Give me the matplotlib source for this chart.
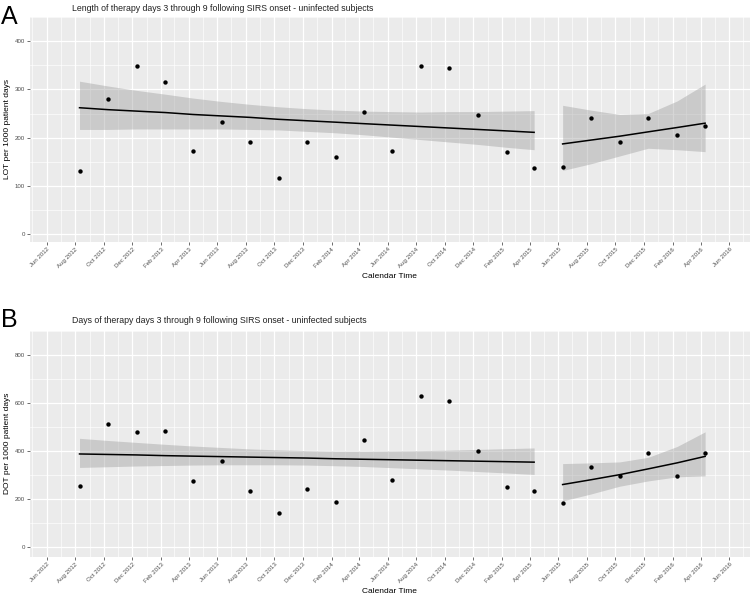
import matplotlib
matplotlib.use("Agg")
import matplotlib.pyplot as plt
import matplotlib.dates as mdates
import pandas as pd

plt.rcParams['font.family'] = ['Liberation Sans', 'DejaVu Sans']

# bimonthly observation dates
dates = pd.to_datetime([
    "2012-08-10", "2012-10-10", "2012-12-10", "2013-02-10", "2013-04-10", "2013-06-10",
    "2013-08-10", "2013-10-10", "2013-12-10", "2014-02-10", "2014-04-10", "2014-06-10",
    "2014-08-10", "2014-10-10", "2014-12-10", "2015-02-10", "2015-04-10",
    "2015-06-10", "2015-08-10", "2015-10-10", "2015-12-10", "2016-02-10", "2016-04-10",
])
split = 17  # first 17 points before the break, 6 after

# panel A: length of therapy
lot = [130, 281, 349, 316, 173, 233, 191, 116, 192, 159, 254, 172, 348, 345, 247, 171, 137,
       139, 240, 192, 241, 205, 224]
lot_fit = [262, 258, 255, 252, 248, 245, 242, 238, 235, 232, 229, 226, 223, 220, 217, 214, 211,
           187, 195, 203, 212, 221, 230]
lot_lo = [217, 217, 218, 218, 218, 218, 217, 216, 213, 210, 206, 201, 196, 191, 186, 180, 175,
          132, 146, 162, 178, 175, 171]
lot_hi = [317, 307, 298, 290, 282, 275, 269, 264, 260, 257, 255, 254, 253, 254, 254, 255, 256,
          267, 257, 248, 250, 276, 311]

# panel B: days of therapy
dot = [257, 513, 480, 484, 277, 360, 234, 143, 241, 188, 444, 281, 627, 609, 400, 249, 236,
       183, 334, 298, 392, 297, 390]
dot_fit = [388, 386, 384, 381, 379, 377, 375, 373, 371, 368, 366, 364, 362, 360, 358, 356, 354,
           261, 281, 302, 326, 351, 378]
dot_lo = [332, 335, 338, 340, 342, 343, 343, 343, 342, 339, 336, 331, 326, 321, 315, 309, 303,
          193, 222, 254, 276, 293, 297]
dot_hi = [453, 444, 436, 428, 421, 415, 409, 405, 402, 400, 400, 401, 402, 404, 407, 410, 413,
          348, 351, 355, 374, 419, 480]

W, H = 750, 597
fig = plt.figure(figsize=(W / 100, H / 100), dpi=100)


def px(x, y):
    return x / W, 1 - y / H


def panel(rect, y, fit, lo, hi, ylim, yticks, ylabel):
    ax = fig.add_axes(rect)
    ax.set_facecolor('#EBEBEB')
    for s in ax.spines.values():
        s.set_visible(False)
    for a, b in [(0, split), (split, len(dates))]:
        ax.fill_between(dates[a:b], lo[a:b], hi[a:b], color='#999999', alpha=0.4, lw=0, zorder=2)
        ax.plot(dates[a:b], fit[a:b], color='black', lw=1.1, zorder=3)
    ax.scatter(dates, y, s=10, color='black', zorder=4, linewidths=0)
    ax.set_xlim(pd.Timestamp("2012-04-26"), pd.Timestamp("2016-07-14"))
    ax.set_ylim(*ylim)
    step = yticks[1] - yticks[0]
    ax.set_yticks(yticks)
    ax.set_yticks([v + step / 2 for v in yticks], minor=True)
    ax.xaxis.set_major_locator(mdates.MonthLocator(bymonth=[2, 4, 6, 8, 10, 12]))
    ax.xaxis.set_minor_locator(mdates.MonthLocator(bymonth=[1, 3, 5, 7, 9, 11]))
    ax.xaxis.set_major_formatter(mdates.DateFormatter('%b %Y'))
    ax.grid(which='major', color='white', lw=0.9, zorder=0)
    ax.grid(which='minor', color='white', lw=0.45, zorder=0)
    ax.set_axisbelow(True)
    ax.tick_params(which='major', length=2, width=0.5, color='#333333', labelsize=4.4,
                   labelcolor='#4D4D4D', pad=1.5)
    ax.tick_params(which='minor', length=0)
    for lab in ax.get_xticklabels():
        lab.set_rotation(45)
        lab.set_ha('right')
        lab.set_rotation_mode('anchor')
    ax.set_ylabel(ylabel, fontsize=6)
    # right side of the rotated label sits ~11 px from the figure edge
    ax.yaxis.set_label_coords(-(30 - 11.5) / (rect[2] * W), 0.5)
    ax.set_xlabel('Calendar Time', fontsize=6, labelpad=3)
    return ax


panel([30 / W, 1 - 241.7 / H, 719.5 / W, 224.7 / H], lot, lot_fit, lot_lo, lot_hi,
      (-15.6, 423), [0, 100, 200, 300, 400], 'LOT per 1000 patient days')
panel([30 / W, 1 - 556.7 / H, 719.5 / W, 226 / H], dot, dot_fit, dot_lo, dot_hi,
      (-38.7, 835.6), [0, 200, 400, 600, 800], 'DOT per 1000 patient days')

fig.text(*px(72, 11), 'Length of therapy days 3 through 9 following SIRS onset - uninfected subjects',
         fontsize=6.3, ha='left', va='baseline', color='#222222')
fig.text(*px(72, 323), 'Days of therapy days 3 through 9 following SIRS onset - uninfected subjects',
         fontsize=6.3, ha='left', va='baseline', color='#222222')
fig.text(*px(1, 23.5), 'A', fontsize=18, ha='left', va='baseline')
fig.text(*px(1, 327), 'B', fontsize=18, ha='left', va='baseline')

fig.savefig('out.png', dpi=100)
